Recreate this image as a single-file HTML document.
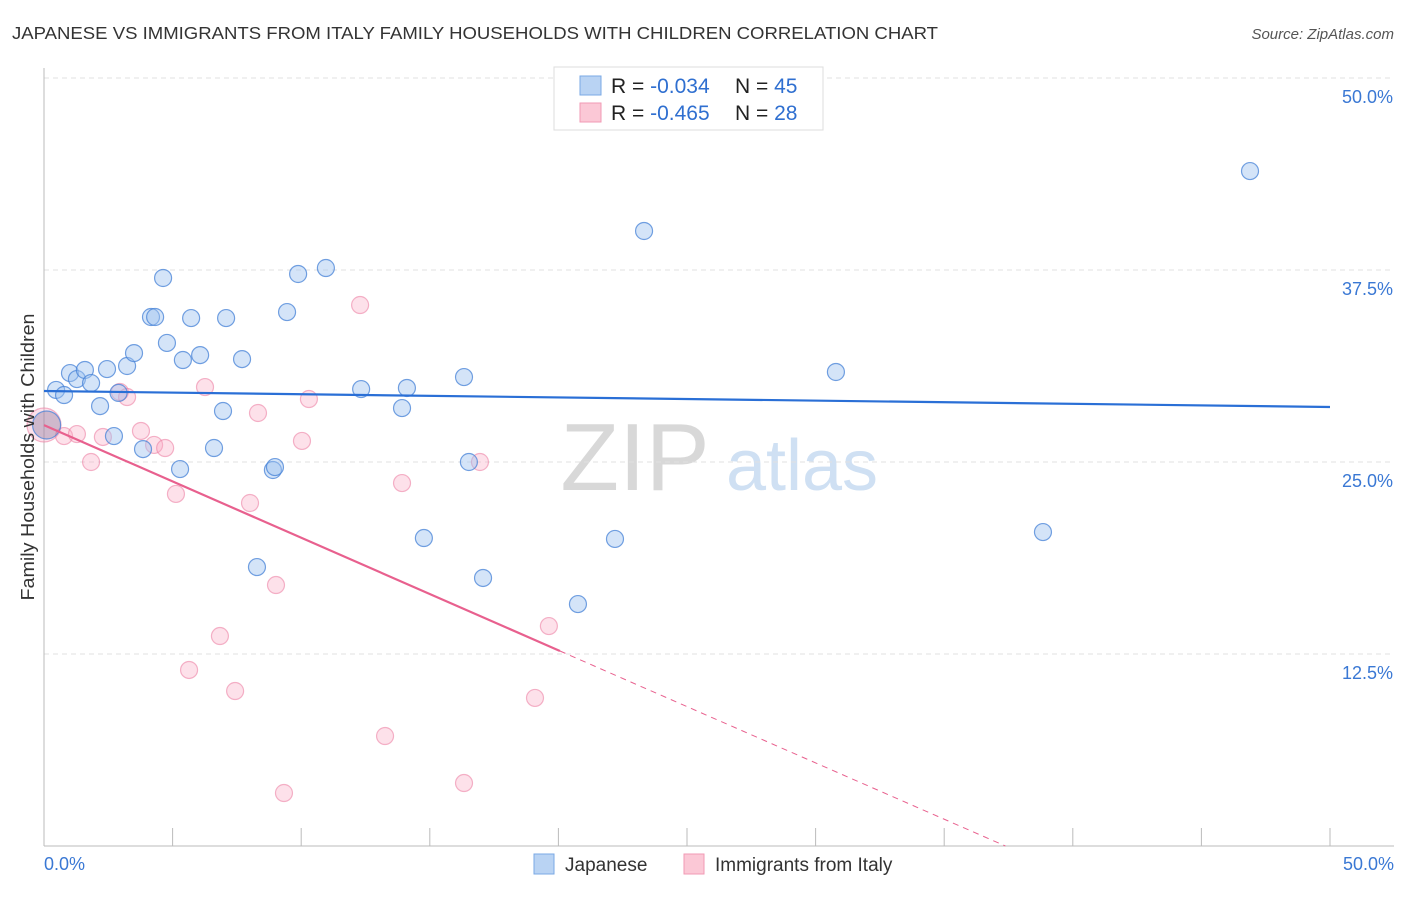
<!DOCTYPE html>
<html><head><meta charset="utf-8">
<style>
body{margin:0;background:#fff;font-family:"Liberation Sans",sans-serif;}
svg text{font-family:"Liberation Sans",sans-serif;}
</style></head>
<body>
<svg id="chart" width="1406" height="892" xmlns="http://www.w3.org/2000/svg">
<text x="12" y="39" font-size="17.5" fill="#333" textLength="926" lengthAdjust="spacingAndGlyphs">JAPANESE VS IMMIGRANTS FROM ITALY FAMILY HOUSEHOLDS WITH CHILDREN CORRELATION CHART</text>
<text x="1394" y="39" font-size="15" fill="#555" text-anchor="end" font-style="italic">Source: ZipAtlas.com</text>
<g>
<text x="635" y="490" font-size="96" fill="#d8d8d8" font-family="Liberation Serif" text-anchor="middle">ZIP</text>
<text x="802" y="490" font-size="72" fill="#cfe0f3" text-anchor="middle">atlas</text>
</g>
<g id="grid"></g>
<g id="axes"></g>
<g id="marks"></g>
<g>
<rect x="554" y="67" width="269" height="63" fill="#fff" stroke="#ddd"/>
<rect x="580" y="76" width="21" height="19" fill="#b9d3f3" stroke="#7aa8e4"/>
<rect x="580" y="103" width="21" height="19" fill="#fbc8d6" stroke="#f19ab4"/>
<text x="611" y="93" font-size="21" fill="#222">R = <tspan fill="#2f6fd0">-0.034</tspan></text>
<text x="735" y="93" font-size="21" fill="#222">N = <tspan fill="#2f6fd0">45</tspan></text>
<text x="611" y="120" font-size="21" fill="#222">R = <tspan fill="#2f6fd0">-0.465</tspan></text>
<text x="735" y="120" font-size="21" fill="#222">N = <tspan fill="#2f6fd0">28</tspan></text>
</g>
<g>
<rect x="534" y="854" width="20" height="20" fill="#b9d3f3" stroke="#7aa8e4"/>
<text x="565" y="871" font-size="19" fill="#333">Japanese</text>
<rect x="684" y="854" width="20" height="20" fill="#fbc8d6" stroke="#f19ab4"/>
<text x="715" y="871" font-size="19" fill="#333">Immigrants from Italy</text>
</g>
<text transform="translate(34,457) rotate(-90)" font-size="18.5" fill="#333" text-anchor="middle" textLength="287" lengthAdjust="spacingAndGlyphs">Family Households with Children</text>
</svg>
<script>
const yTicks=[12.5,25,37.5,50];
const yTickLabels=["12.5%","25.0%","37.5%","50.0%"];
const xEndLabels=["0.0%","50.0%"];
const japaneseX=[0.47,0.78,1.01,1.28,1.59,1.83,2.18,2.45,2.72,3.23,3.50,3.85,4.16,4.32,4.63,4.78,5.29,5.40,5.72,6.07,6.61,6.96,7.08,7.70,8.28,8.90,8.98,9.45,9.88,10.96,12.33,13.92,14.11,14.77,16.33,16.52,17.07,20.76,22.20,23.33,30.79,38.84,46.89,0.1,2.9];
const japaneseY=[29.69,29.36,30.79,30.40,30.99,30.14,28.64,31.05,26.69,31.25,32.09,25.84,34.44,34.44,36.98,32.75,24.54,31.64,34.37,31.96,25.91,28.32,34.37,31.70,18.16,24.48,24.67,34.76,37.24,37.63,29.75,28.51,29.82,20.05,30.53,25.00,17.45,15.75,19.99,40.04,30.86,20.44,43.94,27.41,29.5];
const italyX=[0,0.78,1.28,1.83,2.29,2.95,3.23,3.77,4.28,4.71,5.13,5.64,6.26,6.84,7.43,8.01,8.32,9.02,9.33,10.03,10.30,12.29,13.26,13.92,16.33,16.95,19.09,19.63];
const italyY=[27.41,26.69,26.82,25.0,26.63,29.56,29.23,27.02,26.11,25.91,22.92,11.46,29.88,13.67,10.09,22.33,28.19,16.99,3.45,26.37,29.10,35.22,7.16,23.63,4.10,25.0,9.64,14.32];
const japaneseTrend=[29.62,28.58];
const italyTrend=[27.4,-0.733];
const NS="http://www.w3.org/2000/svg";
const X=v=>44+v/50*1286, Y=v=>846-v/50*768;
function mk(tag,attrs,parent){const e=document.createElementNS(NS,tag);for(const k in attrs)e.setAttribute(k,attrs[k]);parent.appendChild(e);return e;}
const grid=document.getElementById('grid'),axes=document.getElementById('axes'),marks=document.getElementById('marks');
yTicks.forEach((t,i)=>{
 const l=mk('line',{x1:44,x2:1394,y1:Y(t),y2:Y(t),stroke:'#e0e0e0','stroke-dasharray':'5,4'},grid);
 
 
 const tx=mk('text',{x:1393,y:Y(t)+25,'font-size':18,fill:'#3a78d4','text-anchor':'end'},axes);
 tx.textContent=yTickLabels[i];
 
 
});
const ya=mk('line',{x1:44,x2:44,y1:68,y2:846,stroke:'#bbb'},axes);


const xa=mk('line',{x1:44,x2:1394,y1:846,y2:846,stroke:'#bbb'},axes);


for(let i=0;i<=10;i++){const t=mk('line',{x1:X(i*5),x2:X(i*5),y1:828,y2:846,stroke:'#bbb'},axes);
 
 }
const xl0=mk('text',{x:44,y:870,'font-size':18,fill:'#3a78d4'},axes);xl0.textContent=xEndLabels[0];


const xl1=mk('text',{x:1394,y:870,'font-size':18,fill:'#3a78d4','text-anchor':'end'},axes);xl1.textContent=xEndLabels[1];


italyX.forEach((x,i)=>{const c=mk('circle',{cx:X(x),cy:Y(italyY[i]),r:i===0?17:8.5,fill:'rgba(248,170,195,0.35)',stroke:'rgba(236,130,165,0.6)','stroke-width':1.2},marks);
 
 });
japaneseX.forEach((x,i)=>{const big=(i===43);const c=mk('circle',{cx:X(x),cy:Y(japaneseY[i]),r:big?14:8.5,fill:big?'rgba(120,110,150,0.35)':'rgba(160,195,240,0.45)',stroke:'rgba(70,130,215,0.75)','stroke-width':1.2},marks);
 
 });
const bl=mk('line',{x1:X(0),y1:Y(japaneseTrend[0]),x2:X(50),y2:Y(japaneseTrend[1]),stroke:'#2a6fd6','stroke-width':2.2},marks);


const xs=20.06, xe=-italyTrend[0]/italyTrend[1];
const pl=mk('line',{x1:X(0),y1:Y(italyTrend[0]),x2:X(xs),y2:Y(italyTrend[0]+italyTrend[1]*xs),stroke:'#e8608e','stroke-width':2.2},marks);


const pd=mk('line',{x1:X(xs),y1:Y(italyTrend[0]+italyTrend[1]*xs),x2:X(xe),y2:Y(0),stroke:'#e8608e','stroke-width':1,'stroke-dasharray':'6,5'},marks);


</script>
</body></html>
